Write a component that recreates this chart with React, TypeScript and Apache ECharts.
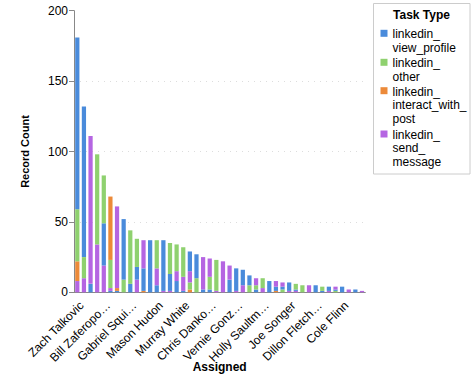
import React, { useEffect, useRef } from "react";
import * as echarts from "echarts";

// 44 assignees; only every 4th name is legible in the reference
const assignees = [
  "Zach Talkovic", "Assignee 2", "Assignee 3", "Assignee 4",
  "Bill Zaferopo…", "Assignee 6", "Assignee 7", "Assignee 8",
  "Gabriel Squi…", "Assignee 10", "Assignee 11", "Assignee 12",
  "Mason Hudon", "Assignee 14", "Assignee 15", "Assignee 16",
  "Murray White", "Assignee 18", "Assignee 19", "Assignee 20",
  "Chris Danko…", "Assignee 22", "Assignee 23", "Assignee 24",
  "Vernie Gonz…", "Assignee 26", "Assignee 27", "Assignee 28",
  "Holly Saultm…", "Assignee 30", "Assignee 31", "Assignee 32",
  "Joe Songer", "Assignee 34", "Assignee 35", "Assignee 36",
  "Dillon Fletch…", "Assignee 38", "Assignee 39", "Assignee 40",
  "Cole Flinn", "Assignee 42", "Assignee 43", "Assignee 44",
];

const viewProfile = [122, 107, 6, 0, 30, 1, 1, 43, 6, 9, 16, 37, 5, 36, 12, 8, 1, 14, 17, 2, 2, 0, 0, 9, 16, 11, 7, 2, 0, 8, 3, 2, 6, 1, 0, 0, 5, 1, 3, 1, 4, 0, 2, 0];
const other = [37, 15, 0, 64, 34, 20, 0, 9, 38, 20, 0, 0, 20, 0, 22, 19, 21, 5, 10, 0, 9, 22, 0, 0, 0, 0, 5, 3, 7, 0, 0, 2, 0, 4, 5, 0, 0, 3, 0, 1, 0, 0, 0, 0];
const interactWithPost = [14, 0, 0, 0, 0, 45, 2, 0, 0, 0, 1, 0, 0, 0, 0, 0, 0, 2, 0, 0, 0, 0, 0, 0, 0, 0, 0, 0, 0, 0, 1, 0, 0, 0, 0, 0, 0, 0, 0, 0, 0, 0, 0, 0];
const sendMessage = [8, 10, 105, 34, 19, 2, 58, 0, 0, 9, 20, 0, 12, 1, 1, 7, 10, 8, 0, 23, 13, 1, 22, 10, 1, 5, 0, 5, 3, 0, 4, 3, 1, 1, 0, 5, 0, 0, 1, 2, 0, 2, 0, 1];
// stacking order of the segments in each bar, bottom to top
// B = view_profile, G = other, O = interact_with_post, P = send_message
const stackOrder = [
  "POGB", "PGB", "BP", "PG", "PBG", "BPGO", "BOP", "GB", "BG", "PBG", "OBP",
  "B", "BPG", "PB", "PBG", "BPG", "BPG", "OGPB", "GB", "BP", "BGP", "PG",
  "P", "BP", "PB", "PB", "GB", "BGP", "PG", "B", "OBP", "GBP", "PB", "PBG",
  "G", "P", "B", "BG", "PB", "GBP", "B", "P", "B", "P",
];

const taskTypes = [
  { key: "B", name: "linkedin_view_profile", lines: ["linkedin_", "view_profile"], color: "#4a8bdb", values: viewProfile },
  { key: "G", name: "linkedin_other", lines: ["linkedin_", "other"], color: "#8fd16f", values: other },
  { key: "O", name: "linkedin_interact_with_post", lines: ["linkedin_", "interact_with_", "post"], color: "#ec8a39", values: interactWithPost },
  { key: "P", name: "linkedin_send_message", lines: ["linkedin_", "send_", "message"], color: "#b565e2", values: sendMessage },
];

export default function App() {
  const ref = useRef<HTMLDivElement>(null);
  useEffect(() => {
    if (!ref.current) return;
    const chart = echarts.init(ref.current, null, { renderer: "svg" });
    const font = "'Liberation Sans', Arial, sans-serif";

    const series: any[] = [];
    for (let level = 0; level < 4; level++) {
      for (const t of taskTypes) {
        series.push({
          type: "bar",
          name: t.name,
          stack: "total",
          barWidth: "64%",
          itemStyle: { color: t.color },
          data: assignees.map((_, i) => (stackOrder[i][level] === t.key ? t.values[i] : 0)),
        });
      }
    }

    // legend drawn as graphics
    const legendEls: any[] = [
      { type: "rect", shape: { x: 373.5, y: 3.5, width: 96.5, height: 170.5 }, style: { fill: "#fff", stroke: "#cccccc", lineWidth: 1 } },
      { type: "text", x: 421.5, y: 15, style: { text: "Task Type", font: `bold 12px ${font}`, fill: "#000", align: "center", verticalAlign: "middle" } },
    ];
    const starts = [34.3, 63.3, 91.7, 135];
    taskTypes.forEach((t, i) => {
      legendEls.push({ type: "rect", shape: { x: 380.5, y: starts[i] - 4.5, width: 7, height: 7 }, style: { fill: t.color } });
      t.lines.forEach((ln, j) => {
        legendEls.push({ type: "text", x: 392.5, y: starts[i] + j * 13.4, style: { text: ln, font: `12px ${font}`, fill: "#000", verticalAlign: "middle" } });
      });
    });

    chart.setOption({
      animation: false,
      textStyle: { fontFamily: font },
      grid: { left: 74, top: 10.7, right: 109.7, bottom: 84.7, containLabel: false, outerBoundsMode: "none" },
      xAxis: {
        type: "category",
        data: assignees,
        axisLine: { lineStyle: { color: "#888", width: 1 } },
        axisTick: { alignWithLabel: true, interval: 3, length: 5, lineStyle: { color: "#888" } },
        axisLabel: { interval: 3, rotate: 45, fontSize: 12, color: "#000", margin: 7, align: "right", verticalAlign: "top", fontFamily: font },
        name: "Assigned",
        nameLocation: "middle",
        nameGap: 69,
        nameMoveOverlap: false,
        nameTextStyle: { fontSize: 12, fontWeight: "bold", color: "#000", fontFamily: font },
      },
      yAxis: {
        type: "value",
        min: 0,
        max: 200,
        interval: 50,
        axisLine: { show: true, lineStyle: { color: "#888", width: 1 } },
        axisTick: { show: true, length: 5, lineStyle: { color: "#888" } },
        axisLabel: { fontSize: 12, color: "#000", margin: 6, fontFamily: font },
        splitLine: { show: true, showMinLine: false, showMaxLine: false, lineStyle: { color: "#dddddd", type: [1, 5], width: 1 } },
        name: "Record Count",
        nameLocation: "middle",
        nameRotate: 90,
        nameGap: 44,
        nameMoveOverlap: false,
        nameTextStyle: { fontSize: 11, fontWeight: "bold", color: "#000", fontFamily: font },
      },
      series,
      graphic: legendEls,
    });
    return () => chart.dispose();
  }, []);
  return <div ref={ref} style={{ width: 475, height: 377, position: "absolute", left: 0, top: 0 }} />;
}
